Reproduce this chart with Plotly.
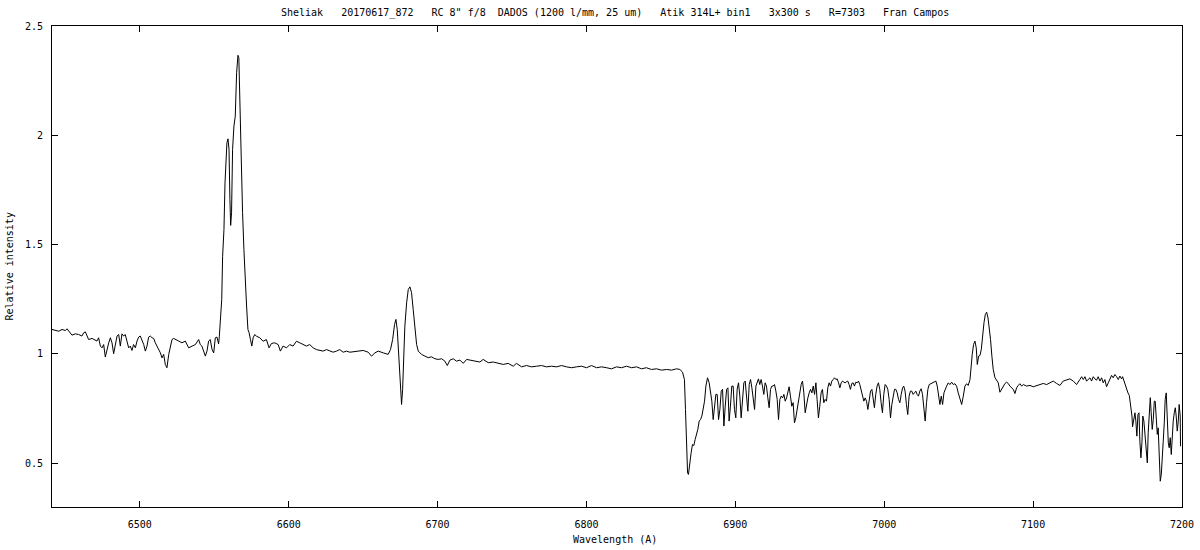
import plotly.graph_objects as go

# ---- data (wavelength in Angstrom, relative intensity) ----
wl_blue = [6441.0, 6443.2, 6445.5, 6447.7, 6450.0, 6451.1, 6452.2, 6453.3, 6454.4, 6456.7, 6458.9, 6461.1, 6462.3, 6463.4, 6464.5, 6465.6, 6467.9, 6470.1, 6471.2, 6472.3, 6473.5, 6474.6, 6475.7, 6476.8, 6477.9, 6479.1, 6480.2, 6481.3, 6482.4, 6483.5, 6484.7, 6485.8, 6486.9, 6488.0, 6489.1, 6490.2, 6491.4, 6492.5, 6493.6, 6494.7, 6495.8, 6497.0, 6498.1, 6499.2, 6500.3, 6501.4, 6502.6, 6503.7, 6504.8, 6505.9, 6507.0, 6508.2, 6509.3, 6510.4, 6511.5, 6512.6, 6513.8, 6514.9, 6516.0, 6517.1, 6518.2, 6519.4, 6520.5, 6521.6, 6522.7, 6523.8, 6526.1, 6528.3, 6530.5, 6532.8, 6535.0, 6537.3, 6539.5, 6540.6, 6541.7, 6542.9, 6544.0, 6545.1, 6546.2, 6547.3, 6548.5, 6549.6, 6550.7, 6551.8, 6552.9]
fx_blue = [1.112, 1.109, 1.104, 1.112, 1.107, 1.115, 1.107, 1.097, 1.086, 1.092, 1.089, 1.082, 1.097, 1.101, 1.086, 1.066, 1.071, 1.062, 1.059, 1.074, 1.036, 1.028, 1.043, 0.986, 1.021, 1.051, 1.074, 1.051, 1.001, 1.043, 1.082, 1.089, 1.036, 1.092, 1.082, 1.089, 1.051, 1.028, 1.036, 1.016, 1.043, 1.028, 1.059, 1.077, 1.082, 1.066, 1.043, 1.013, 1.036, 1.077, 1.082, 1.074, 1.071, 1.051, 1.036, 1.028, 1.005, 0.982, 0.998, 0.952, 0.937, 0.998, 1.028, 1.066, 1.071, 1.066, 1.059, 1.051, 1.059, 1.028, 1.036, 1.043, 1.066, 1.043, 1.036, 1.013, 0.990, 1.013, 1.059, 1.066, 1.021, 1.005, 1.074, 1.077, 1.046]

wl_halpha = [6553.4, 6554.3, 6555.0, 6555.6, 6556.5, 6557.2, 6557.9, 6558.5, 6559.2, 6559.9, 6560.5, 6561.0, 6561.6, 6562.3, 6563.2, 6564.1, 6565.0, 6565.9, 6566.5, 6567.2, 6568.1, 6569.0, 6569.9, 6570.8, 6571.7, 6572.6, 6573.4, 6574.3, 6575.2, 6576.1, 6577.2, 6578.3, 6580.6, 6582.8, 6585.0, 6586.8, 6588.4, 6590.6, 6592.9, 6594.4, 6596.2, 6598.5, 6600.7, 6602.9, 6605.2, 6607.4, 6609.7, 6611.9, 6614.1, 6616.4, 6618.6, 6620.9, 6623.1, 6625.4, 6627.6, 6629.8, 6632.1, 6634.3, 6636.6, 6638.8]
fx_halpha = [1.081, 1.158, 1.249, 1.447, 1.569, 1.783, 1.890, 1.966, 1.984, 1.936, 1.707, 1.588, 1.646, 1.936, 2.042, 2.088, 2.286, 2.366, 2.355, 2.134, 1.829, 1.646, 1.478, 1.310, 1.219, 1.112, 1.097, 1.066, 1.036, 1.074, 1.089, 1.081, 1.074, 1.058, 1.066, 1.028, 1.048, 1.051, 1.043, 1.013, 1.036, 1.028, 1.043, 1.036, 1.058, 1.051, 1.043, 1.036, 1.043, 1.028, 1.020, 1.017, 1.013, 1.020, 1.013, 1.008, 1.013, 1.020, 1.008, 1.013]

wl_hei = [6641.1, 6645.6, 6650.0, 6653.4, 6655.6, 6657.9, 6660.1, 6663.5, 6666.8, 6668.4, 6669.8, 6671.1, 6672.0, 6672.9, 6674.0, 6674.9, 6675.8, 6676.5, 6677.1, 6678.0, 6679.2, 6680.3, 6681.4, 6682.5, 6683.6, 6684.8, 6685.9, 6687.0, 6689.2, 6691.5, 6693.7, 6695.9, 6698.2, 6700.4, 6702.7, 6704.9, 6706.5, 6708.3, 6710.5, 6712.7, 6715.0, 6717.2, 6719.5, 6721.7, 6725.0, 6728.4, 6730.6, 6734.0, 6737.4, 6740.7, 6744.1, 6747.4, 6750.8, 6753.0, 6756.4, 6759.7, 6763.1, 6766.5, 6769.8, 6773.2, 6776.5, 6779.9, 6783.3, 6786.6, 6790.0, 6793.3, 6796.7, 6800.0, 6803.4, 6806.8, 6810.1, 6813.5, 6816.8, 6820.2, 6823.5, 6826.9, 6830.3, 6833.6, 6837.0, 6840.2, 6843.7, 6847.1, 6850.4, 6853.8, 6857.1, 6860.5, 6862.7, 6864.5]
fx_hei = [1.008, 1.013, 1.016, 1.008, 0.990, 1.005, 1.013, 1.005, 0.998, 1.021, 1.066, 1.135, 1.158, 1.112, 0.990, 0.845, 0.769, 0.838, 1.005, 1.127, 1.234, 1.295, 1.307, 1.280, 1.204, 1.112, 1.043, 1.013, 0.998, 0.990, 0.983, 0.987, 0.978, 0.975, 0.978, 0.967, 0.947, 0.972, 0.978, 0.967, 0.972, 0.957, 0.975, 0.972, 0.967, 0.963, 0.975, 0.960, 0.963, 0.957, 0.952, 0.957, 0.944, 0.957, 0.941, 0.947, 0.941, 0.944, 0.947, 0.941, 0.944, 0.941, 0.947, 0.941, 0.937, 0.941, 0.944, 0.937, 0.947, 0.937, 0.941, 0.937, 0.932, 0.941, 0.937, 0.944, 0.937, 0.941, 0.932, 0.937, 0.929, 0.932, 0.926, 0.929, 0.926, 0.932, 0.929, 0.917]

wl_bband = [6865.8, 6866.5, 6867.2, 6867.9, 6868.5, 6869.4, 6870.3, 6871.2, 6872.1, 6873.0, 6873.9, 6874.8, 6875.7, 6876.6, 6877.5, 6878.4, 6879.3, 6880.2, 6881.3, 6882.4, 6883.3, 6884.2, 6885.1, 6886.0, 6886.9, 6887.8, 6888.7, 6889.6, 6890.5, 6891.4, 6892.3, 6893.2, 6894.1, 6895.0, 6895.8, 6896.7, 6897.6, 6898.5, 6899.4, 6900.3, 6901.2, 6902.1, 6903.0, 6903.9, 6904.8, 6905.7, 6906.6, 6907.5, 6908.4, 6909.3, 6910.2, 6911.1, 6912.0, 6912.9, 6913.8, 6914.7, 6915.5, 6916.4, 6917.3, 6918.2, 6919.1, 6920.0, 6920.9, 6921.8, 6922.7, 6923.6, 6924.5, 6925.4, 6926.3, 6927.2, 6928.1, 6929.0, 6929.9, 6930.8, 6931.7, 6932.6, 6933.5, 6934.4, 6935.2, 6936.1, 6937.0, 6937.9, 6938.8, 6939.7, 6940.6, 6941.5, 6942.4, 6943.3, 6944.2, 6945.1, 6946.0, 6946.9, 6947.8, 6948.7, 6949.6, 6950.5, 6951.4, 6952.3, 6953.2, 6954.1, 6954.9, 6955.8, 6956.7, 6957.6, 6958.5, 6959.4, 6960.3, 6961.2, 6962.1, 6963.0, 6963.9, 6964.8, 6965.7, 6966.6, 6967.5, 6968.4, 6969.3, 6970.2, 6971.1, 6972.0, 6972.9, 6973.7, 6974.6, 6975.5, 6976.4, 6977.3, 6978.2, 6979.1, 6980.0, 6980.9, 6981.8, 6982.7, 6983.6, 6984.5, 6985.4, 6986.3, 6987.2, 6988.1, 6989.0, 6989.9, 6990.8, 6991.7, 6992.6, 6993.4, 6994.3, 6995.2, 6996.1, 6997.0, 6997.9, 6998.8, 6999.7, 7000.6, 7001.5, 7002.4, 7003.3, 7004.2, 7005.1, 7006.0, 7006.9, 7007.8, 7008.7, 7009.6, 7010.5, 7011.4, 7012.3, 7013.1, 7014.0, 7014.9, 7015.8, 7016.7, 7017.6, 7018.5, 7019.4, 7020.3, 7021.2, 7022.1, 7023.0, 7023.9, 7024.8, 7025.7, 7026.6, 7027.5, 7028.4, 7029.3, 7030.2]
fx_bband = [0.883, 0.746, 0.563, 0.456, 0.449, 0.517, 0.548, 0.586, 0.581, 0.609, 0.632, 0.655, 0.693, 0.700, 0.716, 0.754, 0.784, 0.853, 0.891, 0.868, 0.822, 0.784, 0.700, 0.777, 0.815, 0.815, 0.700, 0.746, 0.830, 0.838, 0.670, 0.761, 0.838, 0.845, 0.693, 0.761, 0.853, 0.853, 0.746, 0.708, 0.838, 0.868, 0.807, 0.708, 0.807, 0.868, 0.876, 0.799, 0.738, 0.860, 0.883, 0.845, 0.777, 0.746, 0.853, 0.876, 0.886, 0.860, 0.883, 0.853, 0.815, 0.868, 0.853, 0.799, 0.754, 0.838, 0.853, 0.853, 0.860, 0.830, 0.792, 0.700, 0.792, 0.807, 0.799, 0.815, 0.784, 0.799, 0.822, 0.850, 0.807, 0.761, 0.777, 0.685, 0.708, 0.746, 0.769, 0.815, 0.860, 0.876, 0.822, 0.731, 0.769, 0.799, 0.822, 0.838, 0.822, 0.853, 0.815, 0.868, 0.792, 0.708, 0.761, 0.822, 0.838, 0.777, 0.792, 0.784, 0.845, 0.868, 0.853, 0.876, 0.883, 0.891, 0.883, 0.886, 0.868, 0.845, 0.868, 0.876, 0.871, 0.868, 0.873, 0.876, 0.860, 0.838, 0.865, 0.868, 0.853, 0.871, 0.868, 0.876, 0.860, 0.838, 0.807, 0.784, 0.799, 0.784, 0.746, 0.799, 0.830, 0.838, 0.799, 0.754, 0.815, 0.853, 0.868, 0.838, 0.777, 0.731, 0.815, 0.860, 0.853, 0.838, 0.792, 0.708, 0.769, 0.815, 0.838, 0.838, 0.822, 0.792, 0.777, 0.815, 0.845, 0.853, 0.830, 0.769, 0.723, 0.807, 0.830, 0.830, 0.815, 0.822, 0.830, 0.815, 0.807, 0.830, 0.841, 0.815, 0.761, 0.693, 0.777, 0.838, 0.860]

wl_red = [7032.9, 7034.7, 7035.6, 7036.5, 7037.4, 7038.3, 7039.2, 7040.1, 7041.0, 7041.9, 7043.0, 7044.1, 7045.3, 7046.4, 7047.5, 7048.6, 7049.7, 7050.8, 7052.0, 7053.1, 7054.2, 7055.3, 7056.4, 7057.6, 7058.2, 7059.1, 7060.0, 7060.9, 7061.8, 7062.5, 7063.4, 7064.3, 7065.2, 7066.1, 7067.0, 7067.9, 7068.8, 7069.7, 7070.5, 7071.4, 7072.3, 7073.2, 7074.4, 7075.5, 7076.6, 7077.7, 7078.8, 7080.0, 7081.1, 7082.2, 7083.3, 7084.4, 7085.5, 7086.7, 7087.8, 7088.9, 7090.0, 7091.1, 7092.3, 7093.4, 7095.6, 7097.9, 7100.1, 7102.3, 7104.6, 7106.8, 7109.1, 7111.3, 7113.5, 7115.8, 7118.0, 7120.2, 7122.5, 7124.7, 7127.0, 7129.2, 7131.4, 7132.6, 7133.7, 7134.8, 7135.9, 7137.0, 7138.2, 7139.3, 7140.4, 7141.5, 7142.6, 7143.7, 7144.9, 7146.0, 7147.1, 7148.2, 7149.3, 7150.5, 7151.6, 7152.7, 7153.8, 7154.9, 7156.1, 7157.2, 7158.3, 7159.4, 7160.1, 7161.0, 7161.9, 7162.8, 7163.7, 7164.6, 7165.5, 7166.4, 7166.8, 7167.7, 7168.4, 7169.0, 7169.7, 7170.4, 7171.1, 7171.7, 7172.4, 7173.1, 7173.7, 7174.4, 7175.1, 7176.0, 7176.7, 7177.3, 7178.0, 7178.7, 7179.3, 7180.0, 7180.7, 7181.4, 7182.0, 7182.7, 7183.4, 7184.0, 7184.7, 7185.4, 7186.1, 7186.7, 7187.4, 7188.1, 7188.7, 7189.4, 7190.1, 7190.8, 7191.4, 7192.1, 7192.8, 7193.4, 7194.1, 7194.8, 7195.5, 7196.1, 7196.8, 7197.5, 7198.1, 7198.8, 7199.0]
fx_red = [0.871, 0.876, 0.853, 0.807, 0.769, 0.807, 0.769, 0.822, 0.841, 0.853, 0.868, 0.860, 0.871, 0.860, 0.864, 0.853, 0.822, 0.792, 0.769, 0.807, 0.853, 0.864, 0.856, 0.883, 0.952, 0.998, 1.043, 1.059, 1.028, 0.952, 0.990, 0.993, 1.021, 1.097, 1.143, 1.181, 1.191, 1.165, 1.127, 1.066, 0.990, 0.929, 0.891, 0.876, 0.868, 0.825, 0.838, 0.853, 0.865, 0.871, 0.865, 0.853, 0.845, 0.838, 0.819, 0.845, 0.856, 0.864, 0.853, 0.860, 0.853, 0.856, 0.850, 0.856, 0.860, 0.865, 0.860, 0.868, 0.876, 0.865, 0.856, 0.876, 0.883, 0.886, 0.876, 0.860, 0.883, 0.896, 0.883, 0.896, 0.876, 0.883, 0.891, 0.876, 0.896, 0.886, 0.880, 0.896, 0.876, 0.891, 0.868, 0.883, 0.850, 0.868, 0.886, 0.902, 0.891, 0.906, 0.896, 0.883, 0.899, 0.886, 0.896, 0.876, 0.860, 0.845, 0.822, 0.810, 0.769, 0.716, 0.667, 0.716, 0.731, 0.693, 0.624, 0.723, 0.731, 0.601, 0.525, 0.594, 0.716, 0.693, 0.624, 0.548, 0.502, 0.639, 0.716, 0.800, 0.731, 0.655, 0.700, 0.784, 0.784, 0.693, 0.632, 0.662, 0.548, 0.418, 0.449, 0.502, 0.601, 0.685, 0.792, 0.822, 0.693, 0.594, 0.571, 0.617, 0.540, 0.624, 0.693, 0.731, 0.754, 0.716, 0.647, 0.693, 0.769, 0.716, 0.578]

x_ticks = [6500, 6600, 6700, 6800, 6900, 7000, 7100, 7200]
y_ticks = [0.5, 1, 1.5, 2, 2.5]
y_tick_text = ["0.5", "1", "1.5", "2", "2.5"]

title_text = 'Sheliak   20170617_872   RC 8" f/8  DADOS (1200 l/mm, 25 um)   Atik 314L+ bin1   3x300 s   R=7303   Fran Campos'
x_title = "Wavelength (A)"
y_title = "Relative intensity"

segments = [(wl_blue, fx_blue), (wl_halpha, fx_halpha), (wl_hei, fx_hei),
            (wl_bband, fx_bband), (wl_red, fx_red)]
wl, fx = [], []
for w, f in segments:
    assert len(w) == len(f), (len(w), len(f), w[0])
    wl += w
    fx += f

FONT = "DejaVu Sans Mono"
fig = go.Figure(go.Scatter(x=wl, y=fx, mode="lines",
                           line=dict(color="black", width=1),
                           hoverinfo="x+y", showlegend=False))

axis_common = dict(showline=True, linecolor="black", linewidth=1, mirror="allticks",
                   ticks="inside", ticklen=6, tickcolor="black", tickwidth=1,
                   showgrid=False, zeroline=False, automargin=False,
                   tickfont=dict(family=FONT, size=10, color="black"))

fig.update_xaxes(range=[6441, 7200], tickvals=x_ticks, ticklabelstandoff=8, **axis_common)
fig.update_yaxes(range=[0.3, 2.5], tickvals=y_ticks, ticktext=y_tick_text,
                 ticklabelstandoff=6, **axis_common)

fig.update_layout(
    width=1200, height=550, autosize=False,
    margin=dict(l=52, r=18, t=26, b=43, autoexpand=False),
    paper_bgcolor="white", plot_bgcolor="white",
    font=dict(family=FONT, size=10, color="black"),
    annotations=[
        dict(text=title_text.replace(" ", "\u00a0"), xref="paper", yref="paper",
             x=0.498, y=1.027, xanchor="center", yanchor="middle", showarrow=False,
             font=dict(family=FONT, size=10, color="black")),
        dict(text=x_title.replace(" ", "\u00a0"), xref="paper", yref="paper",
             x=0.498, y=-0.0686, xanchor="center", yanchor="middle", showarrow=False,
             font=dict(family=FONT, size=10, color="black")),
        dict(text=y_title.replace(" ", "\u00a0"), xref="paper", yref="paper",
             x=-0.0372, y=0.5, xanchor="center", yanchor="middle", showarrow=False,
             textangle=-90, font=dict(family=FONT, size=10, color="black")),
    ],
)

fig.write_html("out.html", config={"displayModeBar": False},
               post_script="document.body.style.margin='0';document.body.style.overflow='hidden';")
